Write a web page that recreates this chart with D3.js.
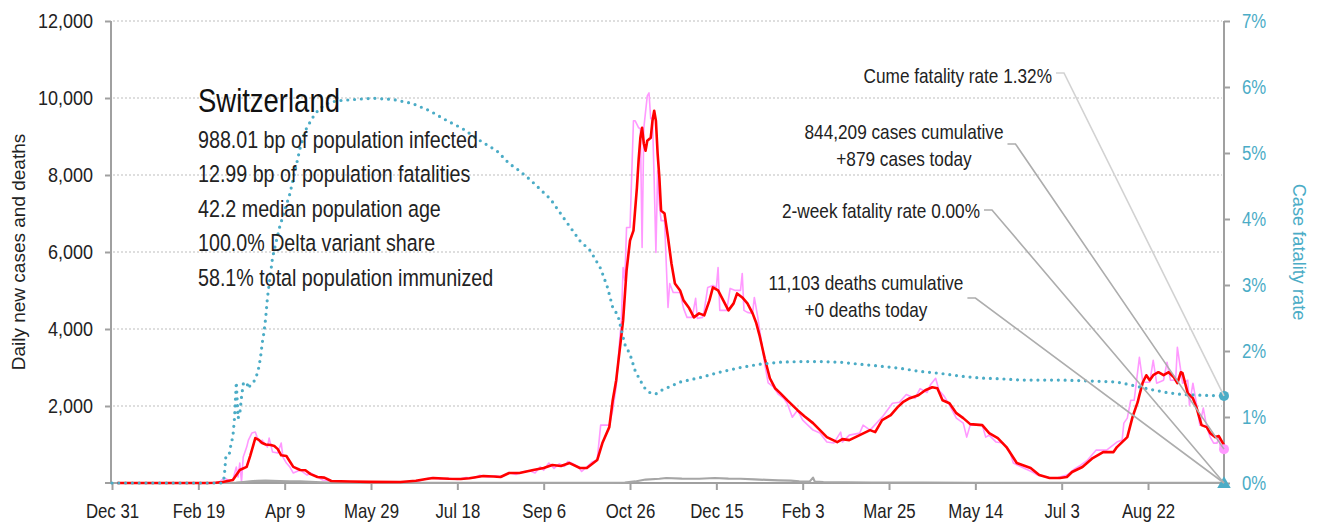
<!DOCTYPE html>
<html>
<head>
<meta charset="utf-8">
<script src="https://cdn.jsdelivr.net/npm/d3@7"></script>
<style>
  html, body { margin: 0; padding: 0; background: #fff; }
  svg { display: block; font-family: "Liberation Sans", Arial, sans-serif; }
</style>
</head>
<body>
<svg id="chart" width="1324" height="525"></svg>
<script>
// ---- data: day offsets from 2019-12-31 ----
const startDate = new Date(Date.UTC(2019, 11, 31));
const lastDay = 644;
const tickDays = [0, 50, 100, 150, 200, 250, 300, 350, 400, 450, 500, 550, 600];
const leftTicks = [2000, 4000, 6000, 8000, 10000, 12000];
const rightTicks = [0, 1, 2, 3, 4, 5, 6, 7];

// 7-day average of daily new cases
const casesAvg = [[3,0],[55,0],[60,5],[64,26],[70,80],[74,337],[78,420],[80,700],[83,1166],[85,1120],[87,1037],[89,1000],[92,985],[94,959],[96,880],[98,720],[101,700],[103,560],[105,420],[109,337],[112,330],[115,230],[119,155],[123,140],[127,52],[138,40],[149,30],[167,26],[176,60],[182,104],[186,130],[195,110],[202,104],[207,125],[215,181],[221,170],[225,155],[230,259],[236,260],[244,337],[250,389],[255,466],[260,440],[265,518],[271,389],[275,389],[281,596],[284,1037],[288,1451],[290,2151],[292,2670],[294,3447],[296,4224],[298,5520],[300,6298],[302,6557],[304,7671],[305,8400],[306,8967],[307,9226],[308,8812],[309,8630],[310,8890],[312,8967],[313,9408],[314,9667],[315,9408],[316,8552],[317,7930],[318,7075],[320,6998],[322,6376],[324,5702],[326,5183],[329,5002],[331,4743],[334,4561],[337,4302],[340,4406],[343,4354],[346,4743],[348,5080],[351,5002],[354,4743],[357,4484],[360,4665],[362,4924],[365,4820],[368,4665],[371,4406],[373,4170],[375,3836],[378,3240],[381,2721],[384,2462],[387,2333],[391,2151],[397,1892],[401,1736],[406,1555],[410,1374],[414,1192],[420,1063],[423,1140],[427,1114],[433,1244],[439,1374],[442,1322],[446,1633],[451,1762],[455,1970],[458,2099],[462,2203],[467,2281],[471,2410],[475,2488],[478,2462],[481,2151],[485,2073],[489,1814],[493,1685],[497,1529],[504,1503],[508,1296],[513,1166],[518,933],[524,518],[532,389],[537,207],[543,130],[549,130],[553,155],[556,285],[562,415],[568,648],[574,803],[580,803],[582,933],[588,1192],[591,1710],[594,2099],[595,2281],[597,2618],[599,2799],[601,2670],[603,2799],[606,2877],[609,2799],[612,2877],[615,2747],[617,2592],[619,2877],[620,2851],[623,2333],[626,2203],[628,1970],[631,1503],[634,1451],[636,1296],[639,1192],[641,1218],[643,1063],[644,985]];

// reported daily new cases
const casesDaily = [[0,0],[55,0],[62,20],[65,130],[68,60],[70,78],[72,415],[73,155],[74,518],[75,26],[76,674],[78,933],[79,1114],[81,1296],[83,1322],[84,1192],[86,1037],[87,1114],[90,933],[91,1166],[93,803],[96,777],[98,1037],[99,674],[101,518],[103,415],[105,259],[109,337],[113,207],[115,259],[119,155],[122,78],[130,40],[140,20],[170,20],[178,50],[182,110],[185,140],[190,100],[195,120],[200,90],[205,140],[210,130],[213,200],[218,150],[222,190],[226,160],[230,270],[234,220],[238,290],[242,320],[245,260],[248,420],[250,330],[253,520],[256,380],[259,500],[262,430],[264,560],[267,500],[270,420],[272,300],[275,420],[278,544],[281,600],[283,1503],[286,1503],[288,1500],[290,1900],[292,2500],[294,3700],[295,4224],[296,5598],[297,5261],[298,6635],[300,6635],[302,9408],[303,9408],[305,9226],[306,9200],[307,6116],[308,9226],[310,10056],[311,10133],[312,9460],[313,9486],[314,7853],[315,5987],[316,8112],[317,7257],[318,6816],[320,6816],[322,4561],[323,5183],[325,4950],[329,4950],[331,4535],[333,4302],[336,4302],[338,4795],[339,4276],[342,4302],[343,4484],[345,5080],[348,5132],[350,5080],[351,5598],[352,4484],[356,4484],[358,5054],[361,5002],[364,5002],[365,5443],[366,4484],[368,4432],[371,4406],[372,4820],[374,4302],[376,3700],[378,3100],[380,2600],[383,2500],[386,2300],[389,2200],[391,2073],[394,1710],[397,1892],[400,1633],[406,1374],[410,1296],[414,1063],[418,1037],[422,1322],[423,1063],[427,1244],[433,1296],[435,1503],[439,1374],[446,1710],[452,2073],[456,2099],[460,2300],[465,2200],[468,2450],[472,2350],[474,2550],[477,2720],[479,2400],[482,2250],[485,2021],[489,1685],[493,1555],[495,1192],[497,1503],[504,1503],[506,1192],[508,1244],[512,1063],[516,1037],[520,803],[522,518],[528,389],[533,285],[536,207],[543,130],[548,140],[553,207],[557,350],[561,466],[565,596],[570,855],[576,855],[582,1063],[585,1114],[586,1555],[588,1685],[590,2151],[592,2151],[595,3266],[597,2618],[601,2618],[603,3188],[605,2592],[609,2670],[611,3136],[613,2670],[616,2670],[617,3525],[620,2592],[623,2670],[624,2021],[626,2592],[628,2073],[630,1503],[632,1944],[634,1451],[636,1192],[638,1037],[640,1037],[641,1192],[642,907],[644,879]];

// daily deaths (7-day average)
const deathsAvg = [[0,0],[68,0],[72,10],[76,25],[80,40],[84,55],[89,60],[97,50],[103,45],[109,40],[115,30],[121,20],[126,10],[135,4],[160,2],[250,2],[290,4],[297,10],[303,40],[309,90],[317,110],[321,130],[330,115],[340,110],[349,130],[357,115],[364,110],[372,95],[379,80],[386,70],[393,60],[398,40],[404,35],[406,140],[407,35],[412,25],[425,15],[440,10],[470,8],[500,6],[530,3],[560,2],[600,3],[644,2]];

// case fatality rate, percent
const cfrPct = [[0,0],[64,0],[65,0.09],[66,0.42],[67,0.44],[68,0.45],[69,0.6],[70,0.7],[71,1.0],[72,1.53],[73,0.98],[74,1.05],[75,1.3],[76,1.5],[77,1.51],[78,1.53],[79,1.43],[80,1.48],[81,1.5],[82,1.53],[83,1.58],[84,1.65],[85,1.75],[86,1.9],[87,2.12],[88,2.28],[89,2.5],[90,2.8],[93,3.42],[97,3.87],[100,4.13],[103,4.38],[106,4.73],[109,5.08],[112,5.34],[116,5.53],[120,5.67],[125,5.75],[130,5.79],[140,5.81],[151,5.83],[163,5.81],[174,5.75],[184,5.64],[194,5.49],[203,5.37],[213,5.19],[223,5.03],[230,4.84],[236,4.73],[242,4.6],[254,4.3],[262,4.0],[271,3.67],[277,3.52],[283,3.25],[287,2.96],[290,2.66],[293,2.54],[297,2.1],[300,1.95],[303,1.7],[306,1.55],[309,1.42],[312,1.36],[315,1.35],[317,1.39],[329,1.53],[341,1.60],[352,1.68],[364,1.75],[375,1.80],[387,1.83],[398,1.84],[410,1.84],[422,1.83],[433,1.80],[445,1.77],[456,1.74],[468,1.69],[480,1.66],[491,1.62],[503,1.59],[514,1.58],[526,1.56],[537,1.56],[549,1.56],[562,1.55],[582,1.53],[591,1.48],[601,1.42],[611,1.37],[620,1.34],[630,1.33],[644,1.32]];

// headline figures
const countryName = "Switzerland";
const infoLines = [
  "988.01 bp of population infected",
  "12.99 bp of population fatalities",
  "42.2 median population age",
  "100.0% Delta variant share",
  "58.1% total population immunized"
];
const cumeFatalityRate = 1.32;
const casesCumulative = 844209;
const casesToday = 879;
const twoWeekFatalityRate = 0.00;
const deathsCumulative = 11103;
const deathsToday = 0;

// ---- drawing ----
const svg = d3.select("#chart");
const dayToDate = d => d3.utcDay.offset(startDate, d);

const x = d3.scaleUtc().domain([startDate, dayToDate(lastDay)]).range([112, 1224]);
const yL = d3.scaleLinear().domain([0, 12000]).range([483, 21]);
const yR = d3.scaleLinear().domain([0, 7]).range([483, 21]);

const teal = "#4bacc6";
const pink = "#ff99ff";
const red = "#ff0000";
const axisGray = "#a0a0a0";

// narrow the type horizontally: move x/y into a transform so anchors stay put
function squeeze(sel, k) {
  sel.each(function () {
    const t = d3.select(this);
    const tx = +t.attr("x") || 0, ty = +t.attr("y") || 0;
    t.attr("x", 0).attr("y", 0).attr("transform", `translate(${tx},${ty}) scale(${k},1)`);
  });
}

// horizontal gridlines
svg.append("g").selectAll("line").data(leftTicks).join("line")
  .attr("x1", 113).attr("x2", 1222)
  .attr("y1", d => yL(d)).attr("y2", d => yL(d))
  .attr("stroke", "#bdbdbd").attr("stroke-width", 1).attr("stroke-dasharray", "2,2");

// left axis
const gL = svg.append("g").attr("transform", "translate(111,0)")
  .call(d3.axisLeft(yL).tickValues(leftTicks).tickSize(6).tickPadding(12)
    .tickFormat(d3.format(",")));
gL.select(".domain").attr("d", `M0,${yL(12000)}V${yL(0)}`);
gL.selectAll("path,line").attr("stroke", axisGray).attr("stroke-width", 2);
gL.selectAll("text").attr("font-size", 20).attr("fill", "#222").attr("font-family", null)
  .call(squeeze, 0.9);

// right axis
const gR = svg.append("g").attr("transform", "translate(1224,0)")
  .call(d3.axisRight(yR).tickValues(rightTicks).tickSize(6).tickPadding(12)
    .tickFormat(d => d + "%"));
gR.select(".domain").attr("d", `M0,${yR(7)}V${yR(0)}`);
gR.selectAll("path,line").attr("stroke", axisGray).attr("stroke-width", 2);
gR.selectAll("text").attr("font-size", 19.5).attr("fill", teal).attr("font-family", null)
  .call(squeeze, 0.86);

// bottom axis
const gX = svg.append("g").attr("transform", "translate(0,483)")
  .call(d3.axisBottom(x).tickValues(tickDays.map(dayToDate)).tickSize(7).tickPadding(13)
    .tickFormat(d3.utcFormat("%b %-d")));
gX.select(".domain").attr("d", `M105,0H1224`);
gX.selectAll("path,line").attr("stroke", axisGray).attr("stroke-width", 2);
gX.selectAll("text").attr("font-size", 20.5).attr("fill", "#222").attr("font-family", null)
  .call(squeeze, 0.82);

// axis titles
svg.append("text")
  .attr("transform", `translate(25,${(yL(0) + yL(12000)) / 2}) rotate(-90)`)
  .attr("text-anchor", "middle").attr("font-size", 19).attr("fill", "#222")
  .text("Daily new cases and deaths");
svg.append("text")
  .attr("transform", `translate(1293,${(yR(0) + yR(7)) / 2}) rotate(90) scale(0.96,1)`)
  .attr("text-anchor", "middle").attr("font-size", 19).attr("fill", teal)
  .text("Case fatality rate");

// series
const lineL = d3.line().x(d => x(dayToDate(d[0]))).y(d => yL(d[1]));
const lineR = d3.line().x(d => x(dayToDate(d[0]))).y(d => yR(d[1]));

svg.append("path").datum(casesDaily).attr("d", lineL)
  .attr("fill", "none").attr("stroke", pink).attr("stroke-width", 1.6).attr("stroke-linejoin", "round");
svg.append("path").datum(deathsAvg).attr("d", lineL)
  .attr("fill", "none").attr("stroke", "#a6a6a6").attr("stroke-width", 2.2).attr("stroke-linejoin", "round");
svg.append("path").datum(casesAvg).attr("d", lineL)
  .attr("fill", "none").attr("stroke", red).attr("stroke-width", 2.6).attr("stroke-linejoin", "round");
svg.append("path").datum(cfrPct).attr("d", lineR)
  .attr("fill", "none").attr("stroke", teal).attr("stroke-width", 3.2)
  .attr("stroke-linecap", "round").attr("stroke-dasharray", "0,6.8");

// end markers
const xEnd = x(dayToDate(lastDay));
svg.append("circle").attr("cx", xEnd).attr("cy", yR(cumeFatalityRate)).attr("r", 5).attr("fill", teal);
svg.append("circle").attr("cx", xEnd).attr("cy", yL(casesToday)).attr("r", 5).attr("fill", pink);
svg.append("path").attr("d", d3.symbol(d3.symbolTriangle, 80)())
  .attr("transform", `translate(${xEnd},${yR(twoWeekFatalityRate) + 1})`).attr("fill", teal);

// title block
svg.append("text").attr("x", 198).attr("y", 112).attr("font-size", 32.7).attr("fill", "#111")
  .text(countryName).call(squeeze, 0.84);
svg.append("g").selectAll("text").data(infoLines).join("text")
  .attr("x", 198).attr("y", (d, i) => 147.5 + i * 34.5)
  .attr("font-size", 23.3).attr("fill", "#222").text(d => d)
  .call(squeeze, 0.845);

// callouts with leader lines to the latest values
const fmt = d3.format(",");
const callouts = [
  { lines: [`Cume fatality rate ${cumeFatalityRate.toFixed(2)}%`], anchor: "end", x: 1052, y: 83,
    stubY: 73, target: [xEnd, yR(cumeFatalityRate)], color: "#d2d2d2" },
  { lines: [`${fmt(casesCumulative)} cases cumulative`, `+${fmt(casesToday)} cases today`], anchor: "middle", x: 904, y: 139,
    stubY: 144, target: [xEnd, yL(casesToday)], color: "#adadad" },
  { lines: [`2-week fatality rate ${twoWeekFatalityRate.toFixed(2)}%`], anchor: "end", x: 980, y: 218,
    stubY: 210, target: [xEnd, yR(twoWeekFatalityRate)], color: "#adadad" },
  { lines: [`${fmt(deathsCumulative)} deaths cumulative`, `+${fmt(deathsToday)} deaths today`], anchor: "middle", x: 866, y: 290,
    stubY: 298, target: [xEnd, yL(deathsToday)], color: "#adadad" }
];

const gLead = svg.append("g");
const gC = svg.append("g");
callouts.forEach(c => {
  const texts = c.lines.map((s, i) => gC.append("text")
    .attr("x", c.x).attr("y", c.y + i * 27)
    .attr("text-anchor", c.anchor).attr("font-size", 21).attr("fill", "#222")
    .text(s).call(squeeze, 0.82));
  const box = texts[0].node().getBoundingClientRect();
  const x0 = box.right + 4, x1 = box.right + 12;
  gLead.append("path")
    .attr("d", d3.line()([[x0, c.stubY], [x1, c.stubY], c.target]))
    .attr("fill", "none").attr("stroke", c.color).attr("stroke-width", 1.6);
});
</script>
</body>
</html>
